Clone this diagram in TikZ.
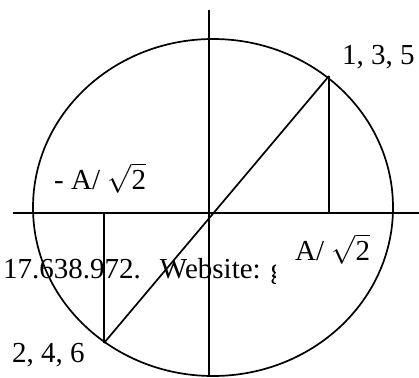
\documentclass[tikz,border=0pt]{standalone}
\usepackage{fix-cm}
\usepackage{fontspec}
\setmainfont{Liberation Serif}
\usetikzlibrary{positioning}
\tikzset{
  axis/.style  = {-, line width=1.8pt, black},
  curve/.style = {-, line width=1.7pt, black},
  lbl/.style   = {inner sep=0pt, font=\fontsize{29}{33}\selectfont},
}

\begin{document}
\begin{tikzpicture}[x=1pt, y=-1pt]
    \useasboundingbox (0,0) rectangle (419,377);

    % --- points ---------------------------------------------------------------
    \coordinate (o)    at (213,207.5);
    \coordinate (p135) at (329,76);
    \coordinate (p246) at (104,343);
    \coordinate (f135) at (329,213);
    \coordinate (f246) at (104,213);
    \coordinate (xl)   at (13,213);
    \coordinate (xr)   at (419,213);
    \coordinate (yt)   at (209,10);
    \coordinate (yb)   at (209,377);

    % --- circle and axes ------------------------------------------------------
    \draw[curve] (o) ellipse [x radius=180, y radius=168.5];
    \draw[axis] (xl) -- (xr);
    \draw[axis] (yt) -- (yb);

    % --- diagonal and projections -------------------------------------------
    \draw[curve] (p246) -- (p135);
    \draw[curve] (p135) -- (f135);
    \draw[curve] (f246) -- (p246);

    % --- labels ---------------------------------------------------------------
    \node[lbl, anchor=base west] (l135) at (342,65) {1, 3, 5};
    \node[lbl, anchor=base west] (l246) at (12,362) {2, 4, 6};
    \node[lbl, anchor=base west] (lneg) at (54,189) {- A/ $\sqrt{\mbox{2}}$};
    \node[lbl, anchor=base west] (lpos) at (295,260) {A/ $\sqrt{\mbox{2}}$};
    \begin{scope}
      \clip (0,240) rectangle (275,300);
      \node[lbl, anchor=base west] (web) at (3,278)
        {17.638.972.\hspace{19pt}Website: g};
    \end{scope}
\end{tikzpicture}
\end{document}
